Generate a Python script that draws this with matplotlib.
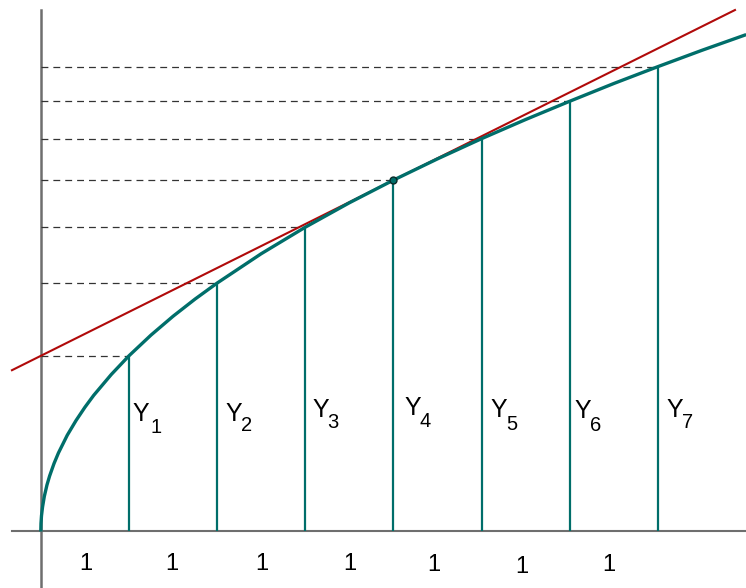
import matplotlib
matplotlib.use("Agg")
import matplotlib.pyplot as plt

plt.rcParams["font.family"] = ["Liberation Sans", "DejaVu Sans"]

# curve (y = sqrt(x) shape)
curve_x = [0, 0.002, 0.008, 0.02, 0.04, 0.07, 0.1, 0.15, 0.2, 0.3, 0.4, 0.5,
           0.6, 0.8, 1.0, 1.25, 1.5, 1.75, 2.0, 2.5, 3.0, 3.5, 4.0, 4.5, 5.0,
           5.5, 6.0, 6.5, 7.0, 7.5, 8.0]
curve_y = [0, 0.045, 0.09, 0.14, 0.2, 0.265, 0.316, 0.387, 0.447, 0.548,
           0.632, 0.707, 0.775, 0.894, 1.0, 1.118, 1.225, 1.323, 1.414, 1.581,
           1.732, 1.871, 2.0, 2.121, 2.236, 2.345, 2.449, 2.55, 2.646, 2.739,
           2.828]

# ordinates Y1..Y7
ord_x = [1, 2, 3, 4, 5, 6, 7]
ord_y = [1.0, 1.414, 1.732, 2.0, 2.236, 2.449, 2.646]
ord_labels = ["1", "2", "3", "4", "5", "6", "7"]

# tangent line at x = 4
tangent_x = [-0.327, 7.873]
tangent_y = [0.918, 2.968]
touch_x, touch_y = 4, 2.0

# bottom width labels
width_labels = ["1"] * 7

TEAL = "#006e6a"
RED = "#b00a0a"
GREY = "#6e6e6e"

fig = plt.figure(figsize=(7.46, 5.88), dpi=100)
ax = fig.add_axes([0, 0, 1, 1])
ax.set_xlim(-0.4627, 7.998)
ax.set_ylim(-0.3216, 3.025)
ax.axis("off")

# axes lines
ax.plot([-0.327, 8.0], [0, 0], color=GREY, lw=1.5, zorder=1)
ax.plot([0, 0], [-0.33, 2.968], color=GREY, lw=1.8, zorder=1)

# dashed guides
for xv, yv in zip(ord_x, ord_y):
    ax.plot([0, xv], [yv, yv], color="#333333", lw=0.9, ls=(0, (5.5, 4)), zorder=2)

# ordinates
ax.vlines(ord_x, 0, ord_y, color=TEAL, lw=1.6, zorder=3)

# tangent
ax.plot(tangent_x, tangent_y, color=RED, lw=1.5, zorder=4)

# curve
ax.plot(curve_x, curve_y, color=TEAL, lw=2.4, solid_capstyle="butt", zorder=5)

ax.plot([touch_x], [touch_y], "o", ms=5, mfc=TEAL, mec="#0a2a28", mew=1, zorder=6)


def px(x, y):
    return x / 746, 1 - y / 588


# label positions (pixels from top-left): Y left/baseline, subscript left/baseline
y_pos = [(133, 421), (226, 421), (313, 417), (405, 415), (491, 417), (575, 418), (667, 417)]
sub_pos = [(152, 433), (242, 431), (328, 428), (420, 427), (507, 430), (591, 431), (683, 428)]
for lab, (yx, yb), (sx, sb) in zip(ord_labels, y_pos, sub_pos):
    fig.text(*px(yx - 1, yb), "Y", fontsize=18, ha="left", va="baseline")
    fig.text(*px(sx - 1, sb), lab, fontsize=14.5, ha="left", va="baseline")

w_pos = [(86, 570), (172, 570), (262, 570), (350, 570), (434, 571), (522, 573), (609, 571)]
for lab, (wx, wb) in zip(width_labels, w_pos):
    fig.text(*px(wx, wb), lab, fontsize=17, ha="center", va="baseline")

fig.savefig("out.png", dpi=100)
